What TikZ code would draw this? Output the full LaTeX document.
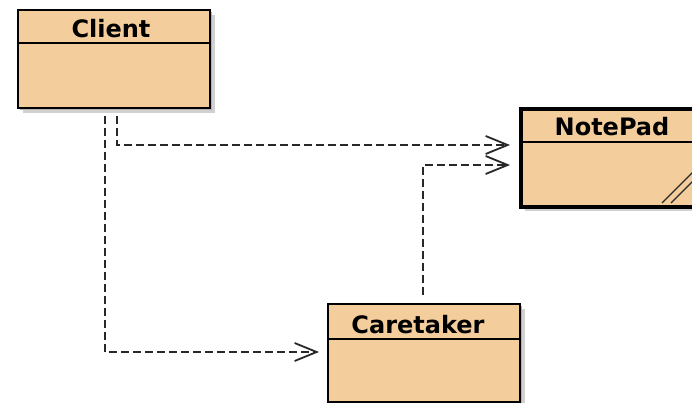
\documentclass[tikz,border=0pt]{standalone}
\usepackage{fontspec}
\setmainfont{DejaVu Sans}
\usetikzlibrary{arrows.meta,calc}
\definecolor{peach}{RGB}{244,205,156}
\definecolor{ink}{RGB}{40,40,40}
\tikzset{
  cls/.style={draw=black, fill=peach, line width=2.2pt, rectangle, inner sep=0pt, anchor=north west},
  thickcls/.style={cls, line width=3.6pt},
  shadowbox/.style={fill=black!30, draw=none, rectangle, inner sep=0pt, anchor=north west},
  lbl/.style={font=\bfseries\fontsize{24}{26}\selectfont, text=black, inner sep=0pt, anchor=base},
  dep/.style={draw=ink, line width=2pt, dash pattern=on 8pt off 4pt,
    -{Straight Barb[length=22pt,width=18pt,line width=1.8pt]}},
}
\begin{document}
\begin{tikzpicture}[x=1pt,y=-1pt]
\clip (0,0) rectangle (692,403);
\fill[white] (0,0) rectangle (692,403);
% shadows
\node[shadowbox, minimum width=192pt, minimum height=98pt, fill=black!18] (clientsh2) at (23,15) {};
\node[shadowbox, minimum width=192pt, minimum height=98pt] (clientsh) at (20,12) {};
\node[shadowbox, minimum width=190pt, minimum height=98pt, fill=black!18] (notesh2) at (525,113) {};
\node[shadowbox, minimum width=190pt, minimum height=98pt] (notesh) at (522,110) {};
\node[shadowbox, minimum width=192pt, minimum height=98pt, fill=black!18] (caresh2) at (333,309) {};
\node[shadowbox, minimum width=192pt, minimum height=98pt] (caresh) at (330,306) {};
% boxes
\node[cls, minimum width=192pt, minimum height=98pt] (client) at (17,9) {};
\draw[line width=1.6pt] ($(client.north west)+(0,34)$) -- ($(client.north east)+(0,34)$);
\node[lbl] (clientname) at (111,38) {Client};

\node[thickcls, minimum width=190pt, minimum height=98pt] (notepad) at (519,107) {};
\draw[line width=1.6pt] ($(notepad.north west)+(0,35)$) -- ($(notepad.north east)+(0,35)$);
\node[lbl] (notepadname) at (612,136) {NotePad};
\draw[ink, line width=1.3pt] (662,203) -- (694,171);
\draw[ink, line width=1.3pt] (671,203) -- (694,180);

\node[cls, minimum width=192pt, minimum height=98pt] (caretaker) at (327,303) {};
\draw[line width=1.6pt] ($(caretaker.north west)+(0,36)$) -- ($(caretaker.north east)+(0,36)$);
\node[lbl] (caretakername) at (418,333) {Caretaker};

% connectors
\coordinate (s1) at (117,116);
\coordinate (t1) at (510,145);
\coordinate (s2) at (105,116);
\coordinate (t2) at (319,352);
\coordinate (s3) at (423,295);
\coordinate (t3) at (510,165);
\draw[dep] (s1) |- (t1);
\draw[dep] (s2) |- (t2);
\draw[dep] (s3) |- (t3);
\end{tikzpicture}
\end{document}
